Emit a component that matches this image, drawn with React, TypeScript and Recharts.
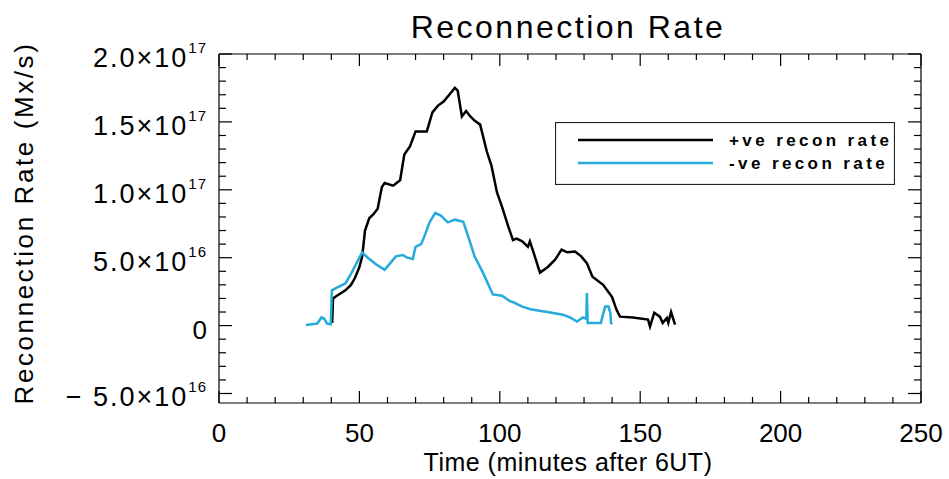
import React from "react";
import { LineChart, Line, XAxis, YAxis, Legend, ReferenceLine } from "recharts";

// time in minutes after 6UT
const posTime = [40.3, 40.6, 42, 45, 47, 48.4, 50, 51, 52, 53.5, 55, 56.5, 58, 59, 62, 64.5, 66, 68, 70, 74, 76, 78, 80, 82, 84, 85, 86.5, 88, 89.5, 91, 93, 95.4, 97, 99, 100.8, 103, 104.7, 106, 108, 110, 110.7, 112, 114.3, 117, 119.7, 122, 124, 126.8, 129, 131, 133, 136.8, 140, 141.5, 142.8, 147.4, 152.8, 153.5, 155, 157, 158, 159.5, 160, 161, 162.4];
// +ve recon rate, units of 1e16 Mx/s
const posRate = [0.2, 2.0, 2.2, 2.6, 3.0, 3.5, 4.3, 5.1, 7.0, 7.9, 8.2, 8.6, 10.2, 10.5, 10.3, 10.7, 12.6, 13.2, 14.3, 14.3, 15.7, 16.2, 16.5, 17.0, 17.5, 17.3, 15.4, 15.8, 15.4, 15.1, 14.8, 12.8, 11.8, 9.8, 8.75, 7.3, 6.3, 6.4, 6.2, 5.8, 6.2, 5.4, 3.9, 4.3, 4.85, 5.6, 5.4, 5.45, 5.1, 4.6, 3.6, 3.0, 2.1, 1.2, 0.66, 0.6, 0.44, -0.07, 0.95, 0.66, 0.2, 0.55, 0.2, 1.0, 0.07];

const negTime = [31, 33, 35, 36.5, 37.5, 38.5, 39.8, 40.2, 42, 45, 47, 49, 51, 53, 56, 59, 61, 63, 65.5, 67, 69, 70, 72, 73, 75, 77, 79, 81.5, 84, 87, 89, 91, 94, 97.5, 100.8, 103.6, 105, 108, 111, 114, 117, 122.5, 125, 127.5, 129.6, 130.8, 131, 131.3, 134, 136, 137.5, 138.7, 139.4, 139.6, 140];
// -ve recon rate (magnitude), units of 1e16 Mx/s
const negRate = [0.05, 0.1, 0.15, 0.6, 0.5, 0.15, 0.1, 2.6, 2.8, 3.1, 3.8, 4.6, 5.4, 5.0, 4.5, 4.1, 4.6, 5.1, 5.2, 5.0, 4.9, 5.8, 6.0, 6.5, 7.6, 8.3, 8.1, 7.6, 7.8, 7.65, 6.4, 5.1, 3.9, 2.3, 2.2, 1.8, 1.7, 1.4, 1.2, 1.1, 1.0, 0.8, 0.6, 0.3, 0.6, 0.5, 2.4, 0.2, 0.2, 0.2, 1.4, 1.4, 0.9, 0.2, 0.1];

const seriesNames = ["+ve recon rate", "-ve recon rate"];
const xTicks = [0, 10, 20, 30, 40, 50, 60, 70, 80, 90, 100, 110, 120, 130, 140, 150, 160, 170, 180, 190, 200, 210, 220, 230, 240, 250];
const yTicks = [-5, -4, -3, -2, -1, 0, 1, 2, 3, 4, 5, 6, 7, 8, 9, 10, 11, 12, 13, 14, 15, 16, 17, 18, 19, 20].map((k) => k * 1e16);

const posData = posTime.map((t, i) => ({ t, v: posRate[i] * 1e16 }));
const negData = negTime.map((t, i) => ({ t, v: negRate[i] * 1e16 }));

const W = 949;
const H = 479;
const PLOT_TOP = 54;
const PLOT_BOTTOM = 403;
const PLOT_LEFT = 219;
const PLOT_RIGHT = 921;
const FONT = '"Liberation Sans", Arial, sans-serif';

// eslint-disable-next-line @typescript-eslint/no-explicit-any
const XTick = ({ x, payload }: any) => {
    const v = payload.value;
    const major = v % 50 === 0;
    const len = major ? 12 : 6;
    return (
        <g>
            <line x1={x} x2={x} y1={PLOT_BOTTOM} y2={PLOT_BOTTOM - len} stroke="#000" strokeWidth={1.2} />
            <line x1={x} x2={x} y1={PLOT_TOP} y2={PLOT_TOP + len} stroke="#000" strokeWidth={1.2} />
            {major && (
                <text x={x} y={PLOT_BOTTOM + 30} textAnchor="middle" dominantBaseline="central" fontSize={26} fontFamily={FONT} fill="#000">
                    {v}
                </text>
            )}
        </g>
    );
};

// eslint-disable-next-line @typescript-eslint/no-explicit-any
const YTick = ({ y, payload }: any) => {
    const v = payload.value;
    const k = Math.round(v / 1e16);
    const major = k % 5 === 0;
    const len = major ? 13 : 7;
    let label: React.ReactNode = null;
    if (major) {
        if (k === 0) {
            label = (
                <text x={207} y={y + 4} textAnchor="end" dominantBaseline="central" fontSize={26} fontFamily={FONT} fill="#000">0</text>
            );
        } else {
            const exp = Math.floor(Math.log10(Math.abs(v)));
            const mant = (v / Math.pow(10, exp)).toFixed(1);
            label = (
                <text x={207} y={y + 4} textAnchor="end" dominantBaseline="central" fontSize={27} fontFamily={FONT} fill="#000" letterSpacing={2}>
                    {mant.replace("-", "\u2212 ")}{"\u00d710"}
                    <tspan dy={-11} fontSize={15} letterSpacing={1}>{exp}</tspan>
                </text>
            );
        }
    }
    return (
        <g>
            <line x1={PLOT_LEFT} x2={PLOT_LEFT + len} y1={y} y2={y} stroke="#000" strokeWidth={1.2} />
            <line x1={PLOT_RIGHT} x2={PLOT_RIGHT - len} y1={y} y2={y} stroke="#000" strokeWidth={1.2} />
            {label}
        </g>
    );
};

// eslint-disable-next-line @typescript-eslint/no-explicit-any
const LegendBox = ({ payload }: any) => (
    <svg width={340} height={63} style={{ display: "block" }}>
        <rect x={0.5} y={0.5} width={339} height={62} fill="#fff" stroke="#222" strokeWidth={1.2} />
        {/* eslint-disable-next-line @typescript-eslint/no-explicit-any */}
        {(payload || []).map((p: any, i: number) => (
            <g key={p.value}>
                <line x1={23} x2={158} y1={18 + i * 23} y2={18 + i * 23} stroke={p.color} strokeWidth={2.5} />
                <text x={174} y={18 + i * 23} dominantBaseline="central" fontSize={17} fontWeight="bold" fontFamily={FONT} letterSpacing={3.4} fill="#000">
                    {p.value}
                </text>
            </g>
        ))}
    </svg>
);

export default function App() {
    return (
        <div style={{ position: "absolute", left: 0, top: 0, width: W, height: H, background: "#fff" }}>
            <LineChart width={W} height={H} data={posData} margin={{ top: PLOT_TOP, right: W - PLOT_RIGHT, bottom: 0, left: 0 }}>
                <XAxis
                    dataKey="t"
                    type="number"
                    domain={[0, 250]}
                    ticks={xTicks}
                    interval={0}
                    tick={<XTick />}
                    tickLine={false}
                    axisLine={{ stroke: "#000", strokeWidth: 1.2 }}
                    height={H - PLOT_BOTTOM}
                    label={{
                        content: () => (
                            <text x={568} y={462} textAnchor="middle" dominantBaseline="central" fontSize={25} fontFamily={FONT} letterSpacing={0.5} fill="#000">
                                Time (minutes after 6UT)
                            </text>
                        ),
                    }}
                />
                <YAxis
                    type="number"
                    domain={[-5.7e16, 2e17]}
                    ticks={yTicks}
                    interval={0}
                    tick={<YTick />}
                    tickLine={false}
                    axisLine={{ stroke: "#000", strokeWidth: 1.2 }}
                    width={PLOT_LEFT}
                    label={{
                        content: () => (
                            <text x={24} y={223} transform="rotate(-90 24 223)" textAnchor="middle" dominantBaseline="central" fontSize={26} fontFamily={FONT} letterSpacing={2.6} fill="#000">
                                Reconnection Rate (Mx/s)
                            </text>
                        ),
                    }}
                />
                <ReferenceLine y={2e17} stroke="#000" strokeWidth={1.2} />
                <ReferenceLine x={250} stroke="#000" strokeWidth={1.2} />
                <Legend
                    layout="horizontal"
                    verticalAlign="middle"
                    align="center"
                    content={<LegendBox />}
                    wrapperStyle={{ left: 555, top: 122, width: 340, height: 63 }}
                />
                <Line data={posData} dataKey="v" name={seriesNames[0]} type="linear" stroke="#000000" strokeWidth={2.5} dot={false} isAnimationActive={false} />
                <Line data={negData} dataKey="v" name={seriesNames[1]} type="linear" stroke="#25aadc" strokeWidth={2.5} dot={false} isAnimationActive={false} />
            </LineChart>
            <svg width={W} height={50} style={{ position: "absolute", left: 0, top: 0, pointerEvents: "none" }}>
                <text x={568} y={38} textAnchor="middle" fontSize={32} fontFamily={FONT} letterSpacing={2.5} fill="#000">
                    Reconnection Rate
                </text>
            </svg>
        </div>
    );
}
